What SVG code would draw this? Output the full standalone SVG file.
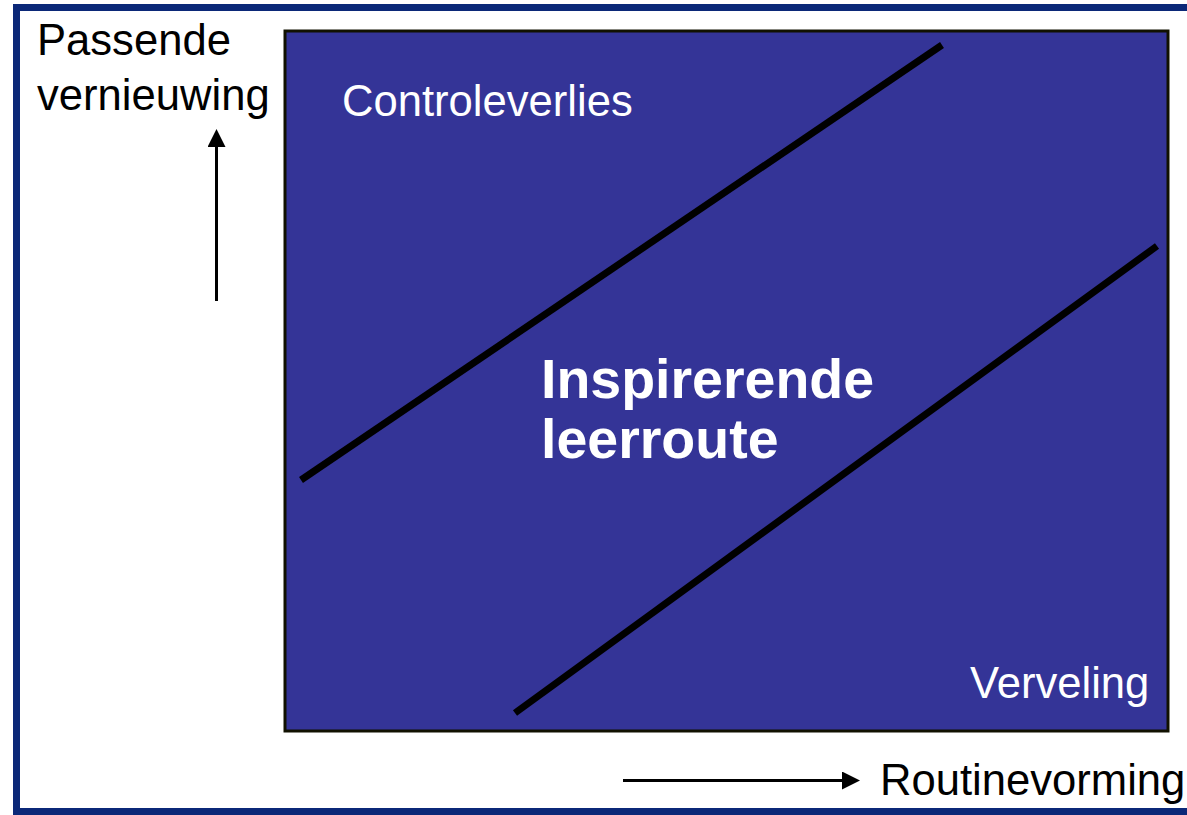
<svg xmlns="http://www.w3.org/2000/svg" width="1187" height="815" viewBox="0 0 1187 815">
  <style>
    .lbl { font-family: "Liberation Sans", Arial, sans-serif; font-size: 43.6px; }
    .dark { fill: #000000; }
    .light { fill: #ffffff; }
    .bold { font-weight: bold; font-size: 55.5px; fill: #ffffff; }
    .diag { stroke: #000000; stroke-width: 7; }
    .axis { stroke: #000000; stroke-width: 3; fill: none; }
  </style>
  <defs>
    <marker id="ah" markerWidth="6" markerHeight="6" refX="5" refY="3" orient="auto" markerUnits="strokeWidth">
      <path d="M0,0 L6,3 L0,6 Z" fill="#000000"/>
    </marker>
  </defs>
  <rect x="0" y="0" width="1187" height="815" fill="#ffffff"/>
  <g id="frame">
    <rect x="16.5" y="7.5" width="1180" height="804" fill="none" stroke="#0b2878" stroke-width="7"/>
  </g>
  <g id="chart">
    <rect x="285" y="31" width="883" height="700" fill="#343497" stroke="#111100" stroke-width="3"/>
  </g>
  <g id="connectors">
    <line class="diag" x1="301" y1="480" x2="942" y2="45"/>
    <line class="diag" x1="515" y1="713" x2="1157" y2="246"/>
    <line class="axis" x1="216.5" y1="301" x2="216.5" y2="132" marker-end="url(#ah)"/>
    <line class="axis" x1="623" y1="780.5" x2="857" y2="780.5" marker-end="url(#ah)"/>
  </g>
  <g id="label-y">
    <text class="lbl dark" x="37" y="55">Passende</text>
    <text class="lbl dark" x="37" y="110">vernieuwing</text>
  </g>
  <g id="label-x">
    <text class="lbl dark" x="880" y="795">Routinevorming</text>
  </g>
  <g id="node-controleverlies">
    <text class="lbl light" x="342" y="116">Controleverlies</text>
  </g>
  <g id="node-verveling">
    <text class="lbl light" x="970" y="698">Verveling</text>
  </g>
  <g id="node-inspirerende">
    <text class="lbl bold" x="541" y="398">Inspirerende</text>
    <text class="lbl bold" x="541" y="458">leerroute</text>
  </g>
</svg>
